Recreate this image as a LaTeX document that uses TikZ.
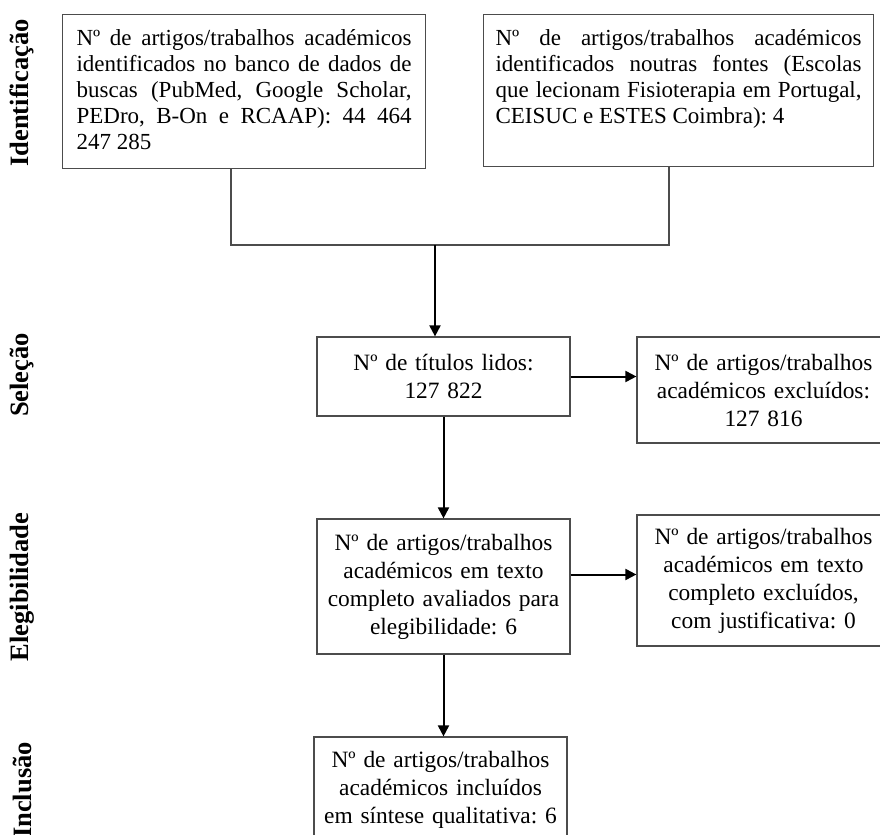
\documentclass[tikz,border=0pt]{standalone}
\usepackage{fontspec}
\setmainfont{Liberation Serif}
\usetikzlibrary{arrows.meta}
\hyphenpenalty=10000
\exhyphenpenalty=10000
\frenchspacing

\begin{document}
\begin{tikzpicture}[x=0.5pt,y=-0.5pt,
  topbox/.style={draw=black!70, line width=0.6pt, anchor=north west, inner xsep=7pt, inner ysep=7.5pt,
    align=justify, text height=8pt, text depth=54pt, font=\fontsize{11.5}{13}\selectfont},
  lowbox/.style={draw=black!70, line width=0.6pt, text width=117.5pt, minimum width=126.5pt,
    inner xsep=4.5pt, align=center, font=\fontsize{11.7}{14}\selectfont},
  phase/.style={rotate=90, inner sep=0pt, font=\fontsize{13.25}{15}\selectfont\bfseries},
  link/.style={draw=black!70, line width=0.6pt},
  arrow/.style={line width=1pt, -{Triangle[length=5.5pt,width=5.5pt]}}]

  \useasboundingbox (0,0) rectangle (880,835);
  \clip (0,0) rectangle (880,835);

  \node[phase] (identificacao) at (22,93) {Identificação};
  \node[phase] (selecao) at (22,375) {Seleção};
  \node[phase] (elegibilidade) at (22,587) {Elegibilidade};
  \node[phase] (inclusao) at (22,790) {Inclusão};

  \node[topbox, text width=167.5pt] (bases) at (62,14)
    {Nº de artigos/trabalhos académicos\linebreak identificados no banco de dados de\linebreak
     buscas (PubMed, Google Scholar,\linebreak PEDro, B-On e RCAAP): 44 464\linebreak 247 285};
  \node[topbox, text width=183pt, inner xsep=6pt, text depth=53pt] (fontes) at (483,14)
    {Nº de artigos/trabalhos académicos\linebreak identificados noutras fontes (Escolas\linebreak
     que lecionam Fisioterapia em Portugal,\linebreak CEISUC e ESTES Coimbra): 4};

  \node[lowbox, minimum height=39.5pt] (titulos) at (443.5,376.5) {Nº de títulos lidos:\\127 822};
  \node[lowbox, minimum height=53pt] (excluidos) at (763.5,390) {Nº de artigos/trabalhos\\académicos excluídos:\\127 816};
  \node[lowbox, minimum height=67.5pt] (avaliados) at (443.5,586.5)
    {Nº de artigos/trabalhos\\académicos em texto\\completo avaliados para\\elegibilidade: 6};
  \node[lowbox, minimum height=65.5pt] (justificados) at (763.5,580.5)
    {Nº de artigos/trabalhos\\académicos em texto\\completo excluídos,\\com justificativa: 0};
  \node[lowbox, minimum height=53pt] (incluidos) at (440.5,790)
    {Nº de artigos/trabalhos\\académicos incluídos\\em síntese qualitativa: 6};

  \coordinate (ja) at (231,245);
  \coordinate (jb) at (669,245);
  \coordinate (j) at (435,245);

  \draw[link] (bases.south -| ja) -- (ja) -- (jb) -- (fontes.south -| jb);
  \draw[arrow] (j) -- (titulos.north -| j);
  \draw[arrow] (titulos.east) -- (titulos.east -| excluidos.west);
  \draw[arrow] (titulos.south) -- (avaliados.north);
  \draw[arrow] ([yshift=3pt]avaliados.east |- justificados.west) -- ([yshift=3pt]justificados.west);
  \draw[arrow] (avaliados.south) -- (avaliados.south |- incluidos.north);

\end{tikzpicture}
\end{document}
